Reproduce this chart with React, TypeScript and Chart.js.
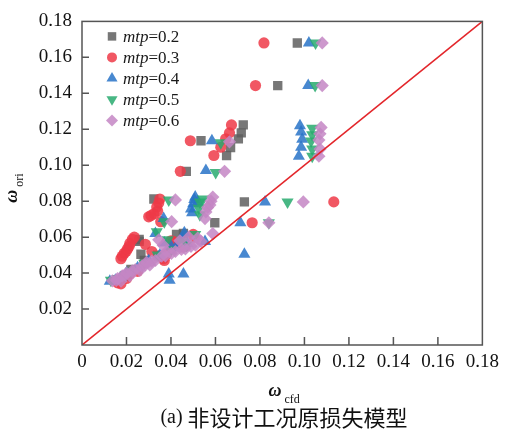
import React, { useEffect, useRef } from "react";
import { Chart, registerables } from "chart.js";
import { drawPoint } from "chart.js/helpers";

Chart.register(...registerables);

const TICKS = [0, 0.02, 0.04, 0.06, 0.08, 0.1, 0.12, 0.14, 0.16, 0.18];
const SERIES_LABELS = ["0.2", "0.3", "0.4", "0.5", "0.6"];

const mtp02x = [0.0968, 0.088, 0.0725, 0.0716, 0.0703, 0.0668, 0.065, 0.0535, 0.0469, 0.073, 0.0597, 0.0323, 0.0257, 0.0265, 0.0456, 0.0425, 0.0257, 0.016, 0.022, 0.028, 0.034, 0.04, 0.0345, 0.019];
const mtp02y = [0.168, 0.1443, 0.1224, 0.118, 0.1147, 0.1098, 0.1054, 0.1136, 0.0966, 0.0796, 0.068, 0.0812, 0.0587, 0.0505, 0.062, 0.0615, 0.0576, 0.036, 0.042, 0.047, 0.05, 0.053, 0.0495, 0.038];

const mtp03x = [0.0818, 0.078, 0.0672, 0.0663, 0.0646, 0.0624, 0.0593, 0.0487, 0.0442, 0.1132, 0.0765, 0.035, 0.0336, 0.0323, 0.03, 0.0354, 0.041, 0.043, 0.0465, 0.0226, 0.0212, 0.0199, 0.0181, 0.016, 0.02, 0.05, 0.0314, 0.038, 0.0365, 0.025, 0.0285, 0.0215, 0.0205, 0.019, 0.0235, 0.0175, 0.034, 0.031, 0.0345, 0.04, 0.045, 0.0505, 0.037, 0.0175, 0.0215];
const mtp03y = [0.168, 0.1443, 0.1224, 0.118, 0.1147, 0.11, 0.1054, 0.1136, 0.0966, 0.0796, 0.068, 0.0812, 0.0768, 0.073, 0.0713, 0.0686, 0.0576, 0.056, 0.055, 0.0587, 0.0549, 0.0521, 0.0494, 0.0346, 0.037, 0.0615, 0.052, 0.0505, 0.048, 0.041, 0.056, 0.0565, 0.0535, 0.051, 0.06, 0.048, 0.0745, 0.072, 0.079, 0.058, 0.0545, 0.06, 0.047, 0.034, 0.0395];

const mtp04x = [0.102, 0.1017, 0.098, 0.0985, 0.099, 0.0985, 0.0975, 0.0584, 0.0557, 0.0823, 0.0712, 0.073, 0.039, 0.0456, 0.0394, 0.0509, 0.049, 0.052, 0.0367, 0.046, 0.0553, 0.015, 0.02, 0.025, 0.03, 0.035, 0.04, 0.045, 0.05, 0.0505, 0.0495, 0.033, 0.037, 0.045, 0.0475, 0.0175, 0.0125, 0.042];
const mtp04y = [0.168, 0.1443, 0.122, 0.1185, 0.1145, 0.11, 0.105, 0.1136, 0.0971, 0.0796, 0.068, 0.0505, 0.0395, 0.0395, 0.036, 0.0823, 0.0757, 0.0796, 0.0703, 0.0625, 0.0576, 0.036, 0.04, 0.043, 0.047, 0.05, 0.055, 0.057, 0.0785, 0.081, 0.0735, 0.062, 0.0567, 0.0585, 0.0565, 0.0375, 0.0355, 0.054];

const mtp05x = [0.105, 0.1048, 0.1035, 0.1035, 0.103, 0.1035, 0.1035, 0.0624, 0.0601, 0.0924, 0.084, 0.039, 0.0544, 0.053, 0.0509, 0.0336, 0.016, 0.022, 0.028, 0.034, 0.04, 0.047, 0.053, 0.0525, 0.037, 0.0385, 0.0195, 0.013, 0.045];
const mtp05y = [0.168, 0.1443, 0.1205, 0.117, 0.1135, 0.109, 0.105, 0.1125, 0.096, 0.0796, 0.068, 0.0807, 0.0812, 0.0724, 0.0615, 0.063, 0.037, 0.041, 0.0455, 0.05, 0.053, 0.0555, 0.0795, 0.076, 0.0685, 0.0585, 0.039, 0.036, 0.0575];

const mtp06x = [0.108, 0.108, 0.1075, 0.107, 0.1065, 0.107, 0.1065, 0.0663, 0.0641, 0.0995, 0.084, 0.042, 0.0588, 0.0575, 0.0557, 0.0553, 0.0403, 0.0588, 0.0137, 0.0181, 0.0226, 0.027, 0.0314, 0.0358, 0.0402, 0.0447, 0.049, 0.0535, 0.016, 0.02, 0.029, 0.038, 0.0155, 0.0195, 0.024, 0.0285, 0.033, 0.0375, 0.042, 0.0465, 0.051, 0.044, 0.048, 0.052, 0.0365, 0.0345, 0.058, 0.0565, 0.0175, 0.0215, 0.026, 0.0305];
const mtp06y = [0.168, 0.1443, 0.121, 0.1175, 0.114, 0.109, 0.105, 0.113, 0.0966, 0.0796, 0.068, 0.0807, 0.0823, 0.0779, 0.074, 0.0703, 0.0686, 0.062, 0.0357, 0.0384, 0.0412, 0.0439, 0.0467, 0.0494, 0.051, 0.0532, 0.0549, 0.0576, 0.037, 0.04, 0.046, 0.052, 0.036, 0.039, 0.042, 0.0445, 0.047, 0.0495, 0.052, 0.0535, 0.0555, 0.058, 0.06, 0.0595, 0.0555, 0.0585, 0.08, 0.0765, 0.0355, 0.0385, 0.0415, 0.0445];

const COLORS = [
  "rgba(95,95,95,0.85)",
  "rgba(238,58,72,0.85)",
  "rgba(40,115,200,0.85)",
  "rgba(40,170,110,0.85)",
  "rgba(196,134,196,0.85)",
];
const STYLES = ["rect", "circle", "triangle", "triangle", "rectRot"];
const ROT = [0, 0, 0, 180, 0];
const RADII = [6.6, 5.6, 7, 7, 6.6];

const XS = [mtp02x, mtp03x, mtp04x, mtp05x, mtp06x];
const YS = [mtp02y, mtp03y, mtp04y, mtp05y, mtp06y];

const SERIF = "'Liberation Serif', 'DejaVu Serif', serif";

const decorPlugin = {
  id: "decor",
  afterDraw(chart: any) {
    const ctx = chart.ctx;
    const { left, right, top, bottom } = chart.chartArea;
    const xs = chart.scales.x;
    const ys = chart.scales.y;
    ctx.save();
    ctx.strokeStyle = "#555";
    ctx.lineWidth = 1.5;
    ctx.strokeRect(left, top, right - left, bottom - top);
    ctx.beginPath();
    TICKS.forEach((v) => {
      if (v <= 0 || v >= 0.18) return;
      const px = xs.getPixelForValue(v);
      ctx.moveTo(px, bottom);
      ctx.lineTo(px, bottom - 8);
      const py = ys.getPixelForValue(v);
      ctx.moveTo(left, py);
      ctx.lineTo(left + 7, py);
    });
    ctx.stroke();

    const lx = left + 30;
    SERIES_LABELS.forEach((lab, i) => {
      const ly = top + 15 + i * 21;
      ctx.fillStyle = COLORS[i];
      ctx.strokeStyle = COLORS[i];
      ctx.lineWidth = 0;
      drawPoint(ctx, { pointStyle: STYLES[i], rotation: ROT[i], radius: RADII[i] - 0.6, borderWidth: 0 } as any, lx, ly);
      ctx.fillStyle = "#1a1a1a";
      ctx.textBaseline = "middle";
      ctx.textAlign = "left";
      ctx.font = `italic 17px ${SERIF}`;
      const t1 = "mtp";
      ctx.fillText(t1, lx + 11, ly + 1);
      const w1 = ctx.measureText(t1).width;
      ctx.font = `17px ${SERIF}`;
      ctx.fillText("=" + lab, lx + 11 + w1, ly + 1);
    });

    ctx.fillStyle = "#111";
    ctx.textBaseline = "alphabetic";
    ctx.font = `bold italic 18px ${SERIF}`;
    const wO = ctx.measureText("ω").width;
    ctx.font = `12px ${SERIF}`;
    const wC = ctx.measureText("cfd").width;
    const cx = (left + right) / 2 + 2;
    const sx = cx - (wO + 3 + wC) / 2;
    ctx.font = `bold italic 18px ${SERIF}`;
    ctx.fillText("ω", sx, 396);
    ctx.font = `12px ${SERIF}`;
    ctx.fillText("cfd", sx + wO + 3, 403);

    ctx.save();
    ctx.translate(17, 188);
    ctx.rotate(-Math.PI / 2);
    ctx.font = `bold italic 18px ${SERIF}`;
    const wO2 = ctx.measureText("ω").width;
    ctx.font = `12px ${SERIF}`;
    const wR = ctx.measureText("ori").width;
    const sy = -(wO2 + 3 + wR) / 2;
    ctx.font = `bold italic 18px ${SERIF}`;
    ctx.fillText("ω", sy, 0);
    ctx.font = `12px ${SERIF}`;
    ctx.fillText("ori", sy + wO2 + 3, 6);
    ctx.restore();

    ctx.font = `20px ${SERIF}`;
    const capA = "(a) ";
    const wa = ctx.measureText(capA).width;
    ctx.font = `22px 'Noto Sans CJK SC', sans-serif`;
    const capB = "非设计工况原损失模型";
    const wb = ctx.measureText(capB).width;
    const cs = 284 - (wa + wb) / 2;
    ctx.textBaseline = "middle";
    ctx.font = `20px ${SERIF}`;
    ctx.fillText(capA, cs, 418);
    ctx.font = `22px 'Noto Sans CJK SC', sans-serif`;
    ctx.fillText(capB, cs + wa, 418);
    ctx.restore();
  },
};

export default function App() {
  const ref = useRef<HTMLCanvasElement | null>(null);
  useEffect(() => {
    if (!ref.current) return;
    const datasets: any[] = [
      {
        type: "line",
        label: "y=x",
        data: [
          { x: 0, y: 0 },
          { x: 0.18, y: 0.18 },
        ],
        borderColor: "#e3262b",
        borderWidth: 1.6,
        pointRadius: 0,
        order: 0,
      },
    ];
    SERIES_LABELS.forEach((lab, i) => {
      datasets.push({
        type: "scatter",
        label: "mtp=" + lab,
        data: XS[i].map((x, j) => ({ x, y: YS[i][j] })),
        backgroundColor: COLORS[i],
        borderWidth: 0,
        pointStyle: STYLES[i],
        rotation: ROT[i],
        pointRadius: RADII[i],
        order: 5 - i,
      });
    });
    const tickFont = { family: SERIF, size: 19 };
    const chart = new Chart(ref.current, {
      type: "scatter",
      data: { datasets },
      options: {
        responsive: false,
        animation: false,
        layout: { padding: { left: 0, top: 17, right: 16, bottom: 0 } },
        plugins: { legend: { display: false }, tooltip: { enabled: false } },
        scales: {
          x: {
            type: "linear",
            min: 0,
            max: 0.18,
            afterBuildTicks: (s: any) => {
              s.ticks = TICKS.map((v) => ({ value: v }));
            },
            afterFit: (s: any) => {
              s.height = 90;
            },
            grid: { display: false, drawTicks: false },
            border: { display: false },
            ticks: {
              padding: 6,
              color: "#111",
              font: tickFont,
              maxRotation: 0,
              autoSkip: false,
              callback: (v: any) => (v === 0 ? "0" : Number(v).toFixed(2)),
            },
          },
          y: {
            type: "linear",
            min: 0,
            max: 0.18,
            afterBuildTicks: (s: any) => {
              s.ticks = TICKS.map((v) => ({ value: v }));
            },
            afterFit: (s: any) => {
              s.width = 82;
            },
            grid: { display: false, drawTicks: false },
            border: { display: false },
            ticks: {
              padding: 10,
              color: "#111",
              font: tickFont,
              autoSkip: false,
              callback: (v: any) => (v === 0 ? "" : Number(v).toFixed(2)),
            },
          },
        },
      },
      plugins: [decorPlugin],
    } as any);
    return () => chart.destroy();
  }, []);
  return (
    <div style={{ position: "fixed", left: 0, top: 0, width: 505, height: 435, background: "#fff" }}>
      <canvas ref={ref} width={505} height={435} style={{ display: "block" }} />
    </div>
  );
}
